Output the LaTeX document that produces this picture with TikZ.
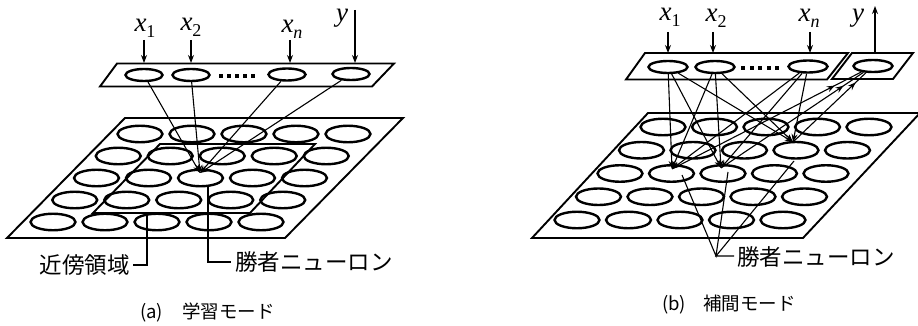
\documentclass[tikz,border=0pt]{standalone}
\usepackage{fontspec}
\setmainfont{Liberation Serif}
\newfontfamily\jp{Noto Sans CJK JP}
\usetikzlibrary{shapes.geometric,arrows.meta,decorations.markings,calc}
\newcommand\vx[1]{\textit{x}\raisebox{-0.22em}{\fontsize{18}{18}\selectfont #1}}
\begin{document}
\begin{tikzpicture}[x=1pt,y=-1pt,
  plate/.style={draw,line width=1.9pt,line join=miter},
  cell/.style={ellipse,draw,line width=2.4pt,minimum width=45pt,minimum height=16.5pt,inner sep=0pt},
  topcell/.style={ellipse,draw,line width=2.4pt,minimum width=37pt,minimum height=12pt,inner sep=0pt},
  topcellb/.style={topcell,minimum width=39pt},
  wire/.style={line width=1.1pt},
  arr/.style={-{Stealth[length=8pt,width=6pt]}},
  ymark/.style={decoration={markings,mark=at position 0.86 with {\arrow{Stealth[length=8pt,width=6pt]}}},postaction={decorate}},
  lab/.style={font=\fontsize{27}{29}\selectfont,inner sep=0pt},
  jlab/.style={font=\jp\fontsize{22.5}{24}\selectfont,inner sep=0pt,anchor=west},
  captext/.style={font=\jp\fontsize{18.5}{20}\selectfont,inner sep=0pt,anchor=west},
  dotmark/.style={fill,minimum width=4pt,minimum height=4.5pt,inner sep=0pt}
]
\useasboundingbox (0,0) rectangle (918,326);

% ================= (a) learning mode =================
\draw[plate] (117,63.5) -- (394,63.5) -- (372,86.5) -- (100,86.5) -- cycle;
\node[topcell] (ta1) at (144,75) {};
\node[topcell] (ta2) at (191,75) {};
\node[topcell] (tan) at (287,74.5) {};
\node[topcell] (tay) at (351,74) {};
\foreach \i/\xx in {1/221,2/229,3/237,4/245,5/253}
  \node[dotmark] (dota\i) at (\xx,76) {};
\node[lab] (lax1) at (145,28) {\vx{1}};
\node[lab] (lax2) at (191,27) {\vx{2}};
\node[lab] (laxn) at (292,29) {\vx{\textit{n}}};
\node[lab] (lay) at (342,18) {\textit{y}};
\coordinate (sa1) at (144,40); \coordinate (ea1) at (144,63);
\coordinate (sa2) at (191,40); \coordinate (ea2) at (191,63);
\coordinate (san) at (290,40); \coordinate (ean) at (290,63);
\coordinate (say) at (355,10); \coordinate (eay) at (355,63);
\draw[wire,arr] (sa1) -- (ea1);
\draw[wire,arr] (sa2) -- (ea2);
\draw[wire,arr] (san) -- (ean);
\draw[wire,arr] (say) -- (eay);
\draw[plate] (125,118) -- (403,118) -- (285,238) -- (7,238) -- cycle;
\foreach \r in {1,...,5}
  \foreach \c in {1,...,5}
    \node[cell] (a-\r-\c) at ({140+52*(\c-1)-21.75*(\r-1)},{134+22*(\r-1)}) {};
\draw[plate] (160,144) -- (315,144) -- (250,213) -- (93,213) -- cycle;
\coordinate (wa) at (200,173);
\draw[wire,arr] (ta1) -- (wa);
\draw[wire,arr] (ta2) -- (wa);
\draw[wire,arr] (tan) -- (wa);
\draw[wire,arr] (tay) -- (wa);
\coordinate (nb1) at (147,213); \coordinate (nb2) at (147,265); \coordinate (nb3) at (133,265);
\draw[wire] (nb1) -- (nb2) -- (nb3);
\node[jlab,anchor=east] (lnb) at (130,265) {近傍領域};
\coordinate (wn1) at (208,187); \coordinate (wn2) at (208,262); \coordinate (wn3) at (231,262);
\draw[wire] (wn1) -- (wn2) -- (wn3);
\node[jlab] (lwa) at (235,262) {勝者ニューロン};
\node[captext] (capa) at (140,312) {(a)\hspace{19pt}学習モード};

% ================= (b) interpolation mode =================
\draw[plate] (645,53) -- (848,53) -- (827,79.5) -- (626,79.5) -- cycle;
\draw[plate] (852,53) -- (913,53) -- (893,79) -- (832,79) -- cycle;
\node[topcellb] (tb1) at (668,67) {};
\node[topcellb] (tb2) at (715,67) {};
\node[topcellb] (tbn) at (808,66.5) {};
\node[topcellb] (tby) at (873,66) {};
\foreach \i/\xx in {1/743,2/751.5,3/760,4/768.5,5/777}
  \node[dotmark] (dotb\i) at (\xx,68) {};
\node[lab] (lbx1) at (670,17) {\vx{1}};
\node[lab] (lbx2) at (716,18) {\vx{2}};
\node[lab] (lbxn) at (809,18) {\vx{\textit{n}}};
\node[lab] (lby) at (858,18) {\textit{y}};
\coordinate (sb1) at (668,32); \coordinate (eb1) at (668,53);
\coordinate (sb2) at (713,32); \coordinate (eb2) at (713,53);
\coordinate (sbn) at (810,32); \coordinate (ebn) at (810,53);
\coordinate (sby) at (875,52); \coordinate (eby) at (875,6);
\draw[wire,arr] (sb1) -- (eb1);
\draw[wire,arr] (sb2) -- (eb2);
\draw[wire,arr] (sbn) -- (ebn);
\draw[wire,arr] (sby) -- (eby);
\draw[plate] (648,113) -- (920,113) -- (803,238) -- (532,238) -- cycle;
\foreach \r in {1,...,5}
  \foreach \c in {1,...,5}
    \node[cell] (b-\r-\c) at ({663+51.5*(\c-1)-21.5*(\r-1)},{127+23.25*(\r-1)}) {};
\coordinate (wb1) at (672,169);
\coordinate (wb2) at (721,168);
\coordinate (wb3) at (793,142);
\foreach \s in {tb1,tb2,tbn}
  \foreach \w in {wb1,wb2,wb3}
    \draw[wire,arr] (\s) -- (\w);
\draw[wire,ymark] (wb1) -- (tby);
\draw[wire,ymark] (wb2) -- (tby);
\draw[wire,ymark] (wb3) -- (tby);
\coordinate (lb) at (716,256);
\coordinate (lb1) at (682,175);
\coordinate (lb2) at (728,172);
\coordinate (lb3) at (794,161);
\coordinate (lbe) at (734,256);
\draw[wire] (lb1) -- (lb) -- (lb2);
\draw[wire] (lb3) -- (lb) -- (lbe);
\node[jlab] (lwb) at (737,257) {勝者ニューロン};
\node[captext] (capb) at (662,305) {(b)\hspace{17pt}補間モード};
\end{tikzpicture}
\end{document}
